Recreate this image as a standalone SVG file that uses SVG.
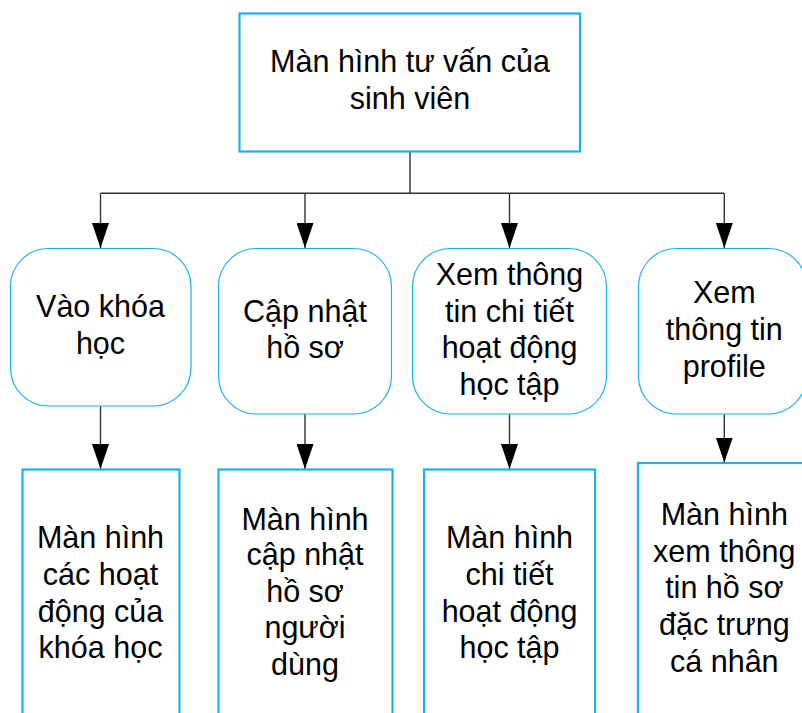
<svg xmlns="http://www.w3.org/2000/svg" width="802" height="713" viewBox="0 0 802 713">
  <defs>
    <style>
      .box { fill: #ffffff; stroke: #1ab2ea; stroke-width: 2.2; }
      .act { fill: #ffffff; stroke: #1ab2ea; stroke-width: 1.2; }
      .lbl { font-family: "Liberation Sans", Arial, sans-serif; font-size: 30.5px; fill: #000000; text-anchor: middle; }
      .wire { fill: none; stroke: #333333; stroke-width: 1.4; }
    </style>
    <marker id="tip" markerUnits="userSpaceOnUse" markerWidth="25" markerHeight="17" refX="25" refY="8.5" orient="auto" viewBox="0 0 25 17">
      <path d="M0,0 L25,8.5 L0,17 Z" fill="#000000"/>
    </marker>
  </defs>

  <!-- Connectors -->
  <g id="connectors">
    <path class="wire" d="M410,152 V193.3"/>
    <path class="wire" d="M100.5,193.3 H724.3"/>
    <path class="wire" d="M100.5,193.3 V248" marker-end="url(#tip)"/>
    <path class="wire" d="M305,193.3 V248" marker-end="url(#tip)"/>
    <path class="wire" d="M509.5,193.3 V248" marker-end="url(#tip)"/>
    <path class="wire" d="M724.3,193.3 V248" marker-end="url(#tip)"/>
    <path class="wire" d="M100.5,406 V469" marker-end="url(#tip)"/>
    <path class="wire" d="M305,414 V469" marker-end="url(#tip)"/>
    <path class="wire" d="M509.5,414 V469" marker-end="url(#tip)"/>
    <path class="wire" d="M724.3,414 V462.5" marker-end="url(#tip)"/>
  </g>

  <!-- Root screen -->
  <g id="root">
    <rect class="box" x="239.5" y="13.5" width="340.5" height="138"/>
    <text class="lbl" x="410" y="72">Màn hình tư vấn của</text>
    <text class="lbl" x="410" y="109">sinh viên</text>
  </g>

  <!-- Actions -->
  <g id="act-course">
    <rect class="act" x="10.5" y="248.5" width="180.5" height="157.5" rx="38" ry="38"/>
    <text class="lbl" x="100.5" y="317">Vào khóa</text>
    <text class="lbl" x="100.5" y="354">học</text>
  </g>
  <g id="act-profile-update">
    <rect class="act" x="218.5" y="248.5" width="173" height="165.5" rx="38" ry="38"/>
    <text class="lbl" x="305" y="322">Cập nhật</text>
    <text class="lbl" x="305" y="358">hồ sơ</text>
  </g>
  <g id="act-activity">
    <rect class="act" x="412.5" y="248.5" width="194" height="165.5" rx="38" ry="38"/>
    <text class="lbl" x="509.5" y="285">Xem thông</text>
    <text class="lbl" x="509.5" y="322">tin chi tiết</text>
    <text class="lbl" x="509.5" y="358">hoạt động</text>
    <text class="lbl" x="509.5" y="395">học tập</text>
  </g>
  <g id="act-profile-view">
    <rect class="act" x="638.5" y="248.5" width="168" height="165.5" rx="38" ry="38"/>
    <text class="lbl" x="724.3" y="303">Xem</text>
    <text class="lbl" x="724.3" y="340">thông tin</text>
    <text class="lbl" x="724.3" y="377">profile</text>
  </g>

  <!-- Result screens -->
  <g id="scr-course">
    <rect class="box" x="22.5" y="469.5" width="157" height="260"/>
    <text class="lbl" x="100.5" y="548">Màn hình</text>
    <text class="lbl" x="100.5" y="585">các hoạt</text>
    <text class="lbl" x="100.5" y="622">động của</text>
    <text class="lbl" x="100.5" y="658">khóa học</text>
  </g>
  <g id="scr-profile-update">
    <rect class="box" x="218.5" y="469.5" width="174" height="260"/>
    <text class="lbl" x="305" y="530">Màn hình</text>
    <text class="lbl" x="305" y="565">cập nhật</text>
    <text class="lbl" x="305" y="602">hồ sơ</text>
    <text class="lbl" x="305" y="638">người</text>
    <text class="lbl" x="305" y="675">dùng</text>
  </g>
  <g id="scr-activity">
    <rect class="box" x="424" y="469.5" width="171" height="260"/>
    <text class="lbl" x="509.5" y="548">Màn hình</text>
    <text class="lbl" x="509.5" y="585">chi tiết</text>
    <text class="lbl" x="509.5" y="622">hoạt động</text>
    <text class="lbl" x="509.5" y="658">học tập</text>
  </g>
  <g id="scr-profile-view">
    <rect class="box" x="638" y="463" width="180" height="270"/>
    <text class="lbl" x="724.3" y="525">Màn hình</text>
    <text class="lbl" x="724.3" y="562">xem thông</text>
    <text class="lbl" x="724.3" y="598">tin hồ sơ</text>
    <text class="lbl" x="724.3" y="635">đặc trưng</text>
    <text class="lbl" x="724.3" y="672">cá nhân</text>
  </g>
</svg>
